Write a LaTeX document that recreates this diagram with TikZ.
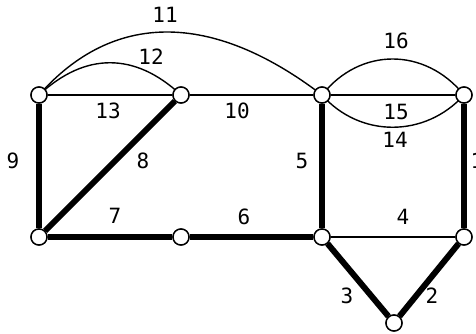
\documentclass[tikz,border=0pt]{standalone}
\usepackage{fontspec}
\setmonofont{DejaVu Sans Mono}
\begin{document}
\begin{tikzpicture}[x=1pt,y=-1pt,
  vtx/.style={circle,draw=black,fill=white,line width=1.4pt,minimum size=16pt,inner sep=0pt},
  thick edge/.style={line width=6pt},
  thin edge/.style={line width=1.4pt},
  lbl/.style={font=\ttfamily\fontsize{21}{21}\selectfont,inner sep=0pt}]
\useasboundingbox (0,0) rectangle (476,334);
\node[vtx] (A) at (39,95) {};
\node[vtx] (B) at (181,95) {};
\node[vtx] (C) at (322,95) {};
\node[vtx] (D) at (464,95) {};
\node[vtx] (E) at (39,237) {};
\node[vtx] (F) at (181,237) {};
\node[vtx] (G) at (322,237) {};
\node[vtx] (H) at (464,237) {};
\node[vtx] (I) at (394,323) {};
% edges
\draw[thick edge] (A) -- (E);
\draw[thick edge] (B) -- (E);
\draw[thick edge] (E) -- (F);
\draw[thick edge] (F) -- (G);
\draw[thick edge] (C) -- (G);
\draw[thick edge] (D) -- (H);
\draw[thick edge] (G) -- (I);
\draw[thick edge] (H) -- (I);
\draw[thin edge] (A) -- (B);
\draw[thin edge] (B) -- (C);
\draw[thin edge] (C) -- (D);
\draw[thin edge] (G) -- (H);
\draw[thin edge] (A.center) .. controls (113,11) and (212,11) .. (C.center);
\draw[thin edge] (A.center) .. controls (85,52) and (135,52) .. (B.center);
\draw[thin edge] (C.center) .. controls (360,47) and (425,47) .. (D.center);
\draw[thin edge] (C.center) .. controls (360,138) and (425,138) .. (D.center);
% redraw vertices on top of the edges
\foreach \p in {A,B,C,D,E,F,G,H,I} {
  \path (\p) node[vtx] {};
}
% labels
\node[lbl] (l11) at (165,15) {11};
\node[lbl] (l12) at (151,57) {12};
\node[lbl] (l13) at (108,111) {13};
\node[lbl] (l10) at (237,111) {10};
\node[lbl] (l16) at (396,41) {16};
\node[lbl] (l15) at (396,112) {15};
\node[lbl] (l14) at (395,140) {14};
\node[lbl] (l9) at (13,161) {9};
\node[lbl] (l8) at (143,161) {8};
\node[lbl] (l5) at (302,161) {5};
\node[lbl] (l1) at (477,161) {1};
\node[lbl] (l7) at (115,216) {7};
\node[lbl] (l6) at (244,217) {6};
\node[lbl] (l4) at (403,217) {4};
\node[lbl] (l3) at (347,296) {3};
\node[lbl] (l2) at (432,296) {2};
\end{tikzpicture}
\end{document}
